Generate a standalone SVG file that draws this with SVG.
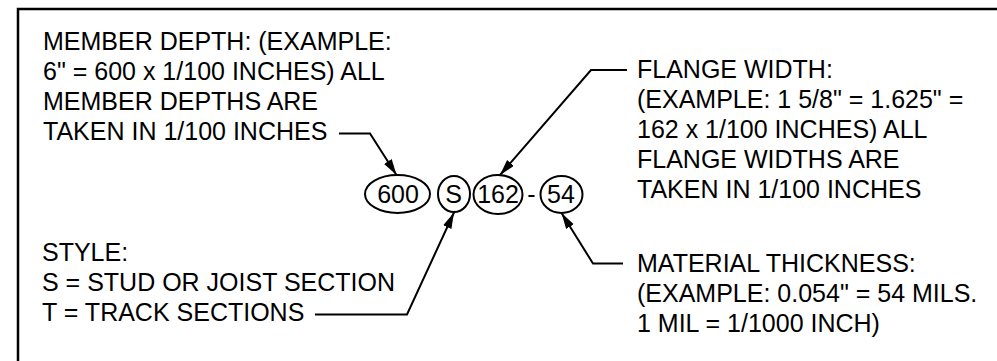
<svg xmlns="http://www.w3.org/2000/svg" width="997" height="361" viewBox="0 0 997 361">
<style>
text{font-family:"Liberation Sans",Arial,sans-serif;font-size:25px;fill:#000}
.c{text-anchor:middle}
.sh{fill:none;stroke:#000;stroke-width:2}
.ld{fill:none;stroke:#000;stroke-width:2}
</style>
<defs>
<marker id="ah" markerUnits="userSpaceOnUse" markerWidth="18" markerHeight="10" refX="16" refY="4.5" orient="auto">
<path d="M0,0 L16,4.5 L0,9 Z" fill="#000"/>
</marker>
</defs>
<rect x="18" y="9" width="1000" height="400" fill="none" stroke="#000" stroke-width="2.5"/>
<g id="member-depth-note">
<text x="43" y="50">MEMBER DEPTH: (EXAMPLE:</text>
<text x="43" y="80">6" = 600 x 1/100 INCHES) ALL</text>
<text x="43" y="110">MEMBER DEPTHS ARE</text>
<text x="43" y="140">TAKEN IN 1/100 INCHES</text>
</g>
<g id="style-note">
<text x="42" y="261">STYLE:</text>
<text x="42" y="291">S = STUD OR JOIST SECTION</text>
<text x="42" y="321">T = TRACK SECTIONS</text>
</g>
<g id="flange-note">
<text x="637" y="78">FLANGE WIDTH:</text>
<text x="637" y="108">(EXAMPLE: 1 5/8" = 1.625" =</text>
<text x="637" y="138">162 x 1/100 INCHES) ALL</text>
<text x="637" y="168">FLANGE WIDTHS ARE</text>
<text x="637" y="198">TAKEN IN 1/100 INCHES</text>
</g>
<g id="thickness-note">
<text x="637" y="272">MATERIAL THICKNESS:</text>
<text x="637" y="302">(EXAMPLE: 0.054" = 54 MILS.</text>
<text x="637" y="332">1 MIL = 1/1000 INCH)</text>
</g>
<g id="depth-600">
<ellipse class="sh" cx="397.5" cy="194" rx="32.5" ry="19"/>
<text class="c" x="398" y="203">600</text>
</g>
<g id="style-s">
<ellipse class="sh" cx="454" cy="194" rx="16" ry="18"/>
<text class="c" x="453.5" y="203">S</text>
</g>
<g id="flange-162">
<ellipse class="sh" cx="498" cy="194.5" rx="24.5" ry="19.5"/>
<text class="c" x="498" y="203">162</text>
</g>
<g id="dash">
<text class="c" x="531.5" y="203">-</text>
</g>
<g id="thickness-54">
<ellipse class="sh" cx="561.5" cy="194.5" rx="21" ry="18.5"/>
<text class="c" x="561" y="203">54</text>
</g>
<g id="connectors">
<polyline class="ld" points="339,133.5 370,133.5 396.5,175" marker-end="url(#ah)"/>
<polyline class="ld" points="315,314.5 407,314.5 454,212.5" marker-end="url(#ah)"/>
<polyline class="ld" points="627,70 591,70 500,175" marker-end="url(#ah)"/>
<polyline class="ld" points="623,263.5 593,263.5 561.5,213" marker-end="url(#ah)"/>
</g>
</svg>
